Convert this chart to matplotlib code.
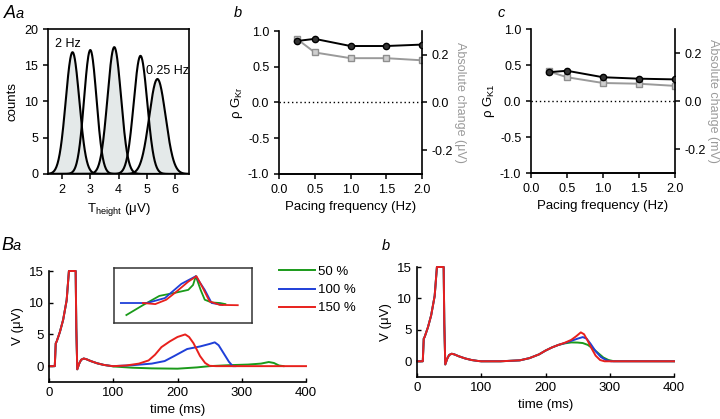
import numpy as np
import matplotlib
matplotlib.use("Agg")
import matplotlib.pyplot as plt

plt.rcParams['font.family'] = ['Liberation Sans', 'DejaVu Sans']
plt.rcParams['mathtext.fontset'] = 'custom'
plt.rcParams['mathtext.rm'] = 'Liberation Sans'
plt.rcParams['mathtext.it'] = 'Liberation Sans:italic'
plt.rcParams['axes.unicode_minus'] = False
plt.rcParams['font.size'] = 9

# --- panel Aa: T-height distributions (one peak per pacing rate)
peak_centers = [2.37, 3.0, 3.85, 4.78, 5.38]
peak_heights = [16.8, 17.1, 17.5, 16.3, 13.1]
peak_widths = [0.24, 0.22, 0.24, 0.24, 0.29]
peak_filled = [True, False, True, False, True]

# --- panels b, c: correlation vs pacing frequency
freq = [0.25, 0.5, 1.0, 1.5, 2.0]
rho_kr = [0.86, 0.89, 0.79, 0.79, 0.81]
rho_kr_err = [0.02, 0.01, 0.01, 0.01, 0.01]
abs_kr = [0.267, 0.21, 0.186, 0.186, 0.177]
abs_kr_err = [0.008, 0.003, 0.003, 0.003, 0.003]
rho_k1 = [0.40, 0.42, 0.33, 0.31, 0.30]
rho_k1_err = [0.03, 0.02, 0.03, 0.02, 0.01]
abs_k1 = [0.123, 0.099, 0.075, 0.072, 0.063]
abs_k1_err = [0.01, 0.005, 0.005, 0.005, 0.005]

# --- panels Ba / Bb: ECG traces (time ms, V uV)
t_up = [0, 9, 10.5, 12, 17, 22, 27.5, 31, 35, 41.5, 42.5, 44, 47, 50, 54, 58, 65, 75, 85, 95]
v_up = [0, 0, 3.6, 3.9, 5.4, 7.3, 10.4, 15, 15, 15, 6.0, -0.5, 0.4, 1.0, 1.2, 1.1, 0.8, 0.45, 0.2, 0.05]

ba_t_green = [100, 130, 160, 200, 230, 250, 280, 310, 330, 342, 350, 358, 365]
ba_v_green = [-0.05, -0.25, -0.35, -0.4, -0.2, 0.0, 0.15, 0.25, 0.4, 0.65, 0.5, 0.1, 0.0]
ba_t_blue = [100, 130, 160, 180, 195, 215, 235, 250, 258, 264, 272, 280, 286, 290]
ba_v_blue = [0.0, 0.15, 0.4, 0.8, 1.6, 2.7, 3.1, 3.5, 3.75, 3.3, 2.0, 0.7, 0.0, 0.0]
ba_t_red = [100, 120, 140, 155, 165, 175, 188, 200, 212, 218, 225, 235, 243, 250, 260, 400]
ba_v_red = [0.0, 0.1, 0.4, 0.9, 1.8, 3.0, 3.9, 4.6, 5.0, 4.6, 3.6, 1.6, 0.5, 0.05, 0.0, 0.0]

bb_t_mid = [100, 130, 160, 175, 190, 200, 210, 220]
bb_v_mid = [0, 0, 0.15, 0.5, 1.1, 1.7, 2.2, 2.6]
bb_t_green = [230, 240, 250, 258, 266, 274, 282, 290, 298, 306, 400]
bb_v_green = [2.85, 3.0, 2.98, 2.9, 2.6, 2.0, 1.3, 0.6, 0.2, 0.02, 0]
bb_t_blue = [230, 240, 250, 258, 264, 270, 278, 286, 294, 302, 400]
bb_v_blue = [2.9, 3.25, 3.6, 3.85, 3.6, 2.8, 1.6, 0.7, 0.2, 0.0, 0]
bb_t_red = [230, 240, 248, 255, 260, 266, 272, 278, 285, 292, 400]
bb_v_red = [2.95, 3.4, 4.0, 4.6, 4.3, 3.2, 2.0, 0.9, 0.2, 0.0, 0]

# inset (zoom on the T wave, arbitrary units 0-100)
in_u_green = [9, 21, 33, 45, 54, 57.5, 59.5, 63, 66, 71, 77, 81]
in_v_green = [14, 32, 49, 55, 60, 69, 85, 60, 42, 37, 36, 34]
in_u_blue = [5, 24, 37, 49, 59.5, 66, 71, 79]
in_v_blue = [36, 36, 45, 71, 85, 60, 36, 32.5]
in_u_red = [21, 30, 38, 45.5, 54, 60, 64.5, 69.5, 77, 90]
in_v_red = [36, 34, 42, 57, 75, 85, 64, 39, 32.5, 32]

legend_labels = ['50 %', '100 %', '150 %']
trace_colors = ['#1a9a1a', '#1f3fd8', '#e8201c']

fig = plt.figure(figsize=(7.2, 4.19), dpi=100)
W, H = 720.0, 419.0

def px_axes(l, t, r, b):
    return fig.add_axes([l / W, 1 - b / H, (r - l) / W, (b - t) / H])

# ---------------- Aa
ax = px_axes(48, 29, 189, 174)
x = np.linspace(1.5, 6.5, 400)
for c, h, s, f in zip(peak_centers, peak_heights, peak_widths, peak_filled):
    y = h * np.exp(-(x - c) ** 2 / (2 * s ** 2))
    if f:
        ax.fill_between(x, 0, y, color='#e4e9e9', lw=0)
for c, h, s, f in zip(peak_centers, peak_heights, peak_widths, peak_filled):
    y = h * np.exp(-(x - c) ** 2 / (2 * s ** 2))
    ax.plot(x, y, color='black', lw=1.5)
ax.set_xlim(1.5, 6.5)
ax.set_ylim(0, 20)
ax.set_xticks([2, 3, 4, 5, 6])
ax.set_yticks([0, 5, 10, 15, 20])
ax.set_ylabel('counts', fontsize=9.5)
ax.set_xlabel(r'T$_{\rm height}$ (μV)', fontsize=9.5)
ax.text(2.2, 17.9, '2 Hz', ha='center', va='center', fontsize=9)
ax.text(5.75, 14.2, '0.25 Hz', ha='center', va='center', fontsize=9)
for sp in ax.spines.values():
    sp.set_linewidth(1.2)
ax.tick_params(direction='out', length=3.5, width=1.1, labelsize=9)


def corr_panel(ax, rho, rho_err, ab, ab_err, right_label):
    tw = ax.twinx()
    tw.errorbar(freq, ab, yerr=ab_err, color='#9a9a9a', lw=1.4, marker='s', ms=4.5,
                mfc='#cfcfcf', mec='#8f8f8f', mew=1, capsize=1.5, elinewidth=1)
    ax.errorbar(freq, rho, yerr=rho_err, color='black', lw=1.4, marker='o', ms=4.5,
                mfc='#333333', mec='black', mew=1, capsize=1.5, elinewidth=1)
    ax.set_zorder(tw.get_zorder() + 1)
    ax.patch.set_visible(False)
    ax.axhline(0, color='black', lw=1, ls=(0, (1, 2)))
    ax.set_xlim(0, 2)
    ax.set_ylim(-1, 1)
    tw.set_ylim(-0.3, 0.3)
    ax.set_xticks([0, 0.5, 1.0, 1.5, 2.0])
    ax.set_xticklabels(['0.0', '0.5', '1.0', '1.5', '2.0'])
    ax.set_yticks([-1, -0.5, 0, 0.5, 1])
    ax.set_yticklabels(['-1.0', '-0.5', '0.0', '0.5', '1.0'])
    tw.set_yticks([-0.2, 0, 0.2])
    tw.set_yticklabels(['-0.2', '0.0', '0.2'])
    for a in (ax, tw):
        a.spines['top'].set_visible(False)
        for sp in a.spines.values():
            sp.set_linewidth(1.2)
        a.tick_params(direction='out', length=3.5, width=1.1, labelsize=9)
    ax.spines['right'].set_visible(False)
    tw.spines['left'].set_visible(False)
    ax.set_xlabel('Pacing frequency (Hz)', fontsize=9.5)
    tw.set_ylabel(right_label, color='#9a9a9a', rotation=270, labelpad=9, fontsize=9)
    return tw

axb = px_axes(279, 31, 422, 174)
corr_panel(axb, rho_kr, rho_kr_err, abs_kr, abs_kr_err, 'Absolute change (μV)')
axb.set_ylabel(r'ρ G$_{\rm Kr}$', fontsize=9.5, labelpad=2)

axc = px_axes(531, 29, 675, 173)
corr_panel(axc, rho_k1, rho_k1_err, abs_k1, abs_k1_err, 'Absolute change (mV)')
axc.set_ylabel(r'ρ G$_{\rm K1}$', fontsize=9.5, labelpad=2)


def trace_axes(ax):
    ax.set_xlim(0, 400)
    ax.set_ylim(-2.5, 15)
    ax.set_xticks([0, 100, 200, 300, 400])
    ax.set_yticks([0, 5, 10, 15])
    ax.spines['top'].set_visible(False)
    ax.spines['right'].set_visible(False)
    for sp in ax.spines.values():
        sp.set_linewidth(1.2)
    ax.tick_params(direction='in', length=3, width=1, labelsize=9.5)
    ax.set_xlabel('time (ms)', fontsize=9.5)
    ax.set_ylabel('V (μV)', fontsize=9.5, labelpad=4)

# ---------------- Ba
axBa = px_axes(49, 271, 306, 382)
ba_t = [ba_t_green, ba_t_blue, ba_t_red]
ba_v = [ba_v_green, ba_v_blue, ba_v_red]
for tt, vv, col, lab in zip(ba_t, ba_v, trace_colors, legend_labels):
    axBa.plot(t_up + tt, v_up + vv, color=col, lw=1.4, label=lab, clip_on=False)
trace_axes(axBa)
fig.legend(*axBa.get_legend_handles_labels(), loc='upper left',
           bbox_to_anchor=(267 / W, 1 - 254 / H), frameon=False, fontsize=9.5,
           handlelength=2.75, handletextpad=0.2, labelspacing=0.45)

ins = px_axes(114, 268, 251.5, 322.7)
for uu, vv, col in zip([in_u_green, in_u_blue, in_u_red], [in_v_green, in_v_blue, in_v_red], trace_colors):
    ins.plot(uu, vv, color=col, lw=1.3)
ins.set_xlim(0, 100)
ins.set_ylim(0, 100)
ins.set_xticks([])
ins.set_yticks([])
for sp in ins.spines.values():
    sp.set_linewidth(1.1)
    sp.set_color('#333333')

# ---------------- Bb
axBb = px_axes(417, 267, 674, 377)
bb_t = [bb_t_green, bb_t_blue, bb_t_red]
bb_v = [bb_v_green, bb_v_blue, bb_v_red]
for tt, vv, col in zip(bb_t, bb_v, trace_colors):
    axBb.plot(t_up + bb_t_mid + tt, v_up + bb_v_mid + vv, color=col, lw=1.4, clip_on=False)
trace_axes(axBb)

# panel letters
fig.text(4 / W, 1 - 13 / H, 'A', fontsize=13, style='italic', va='center')
fig.text(16 / W, 1 - 14 / H, 'a', fontsize=10.5, style='italic', va='center')
fig.text(234 / W, 1 - 13 / H, 'b', fontsize=10.5, style='italic', va='center')
fig.text(498 / W, 1 - 13 / H, 'c', fontsize=10.5, style='italic', va='center')
fig.text(1 / W, 1 - 245 / H, 'B', fontsize=13, style='italic', va='center')
fig.text(13 / W, 1 - 246 / H, 'a', fontsize=10.5, style='italic', va='center')
fig.text(382 / W, 1 - 246 / H, 'b', fontsize=10.5, style='italic', va='center')

fig.savefig('out.png', dpi=100)
